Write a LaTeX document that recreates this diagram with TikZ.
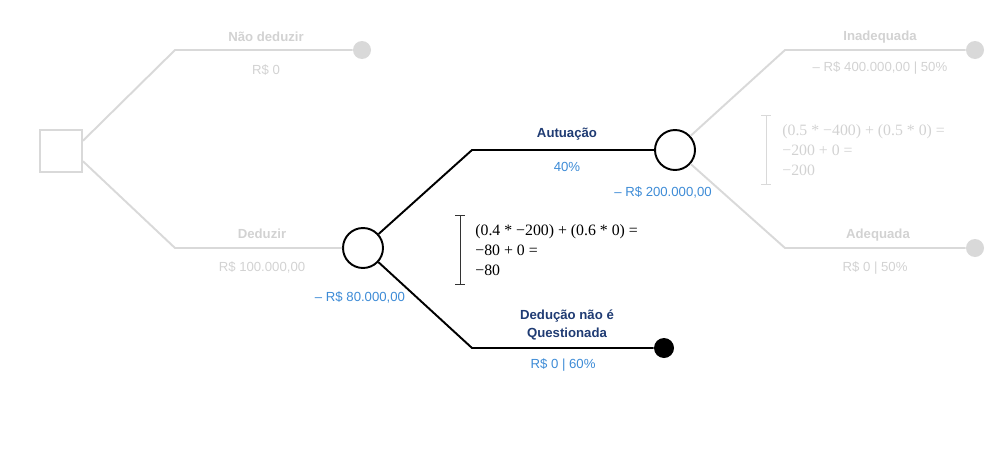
\documentclass[tikz,border=0pt]{standalone}
\usepackage{xcolor}
\usepackage{fontspec}
\setmainfont{Liberation Sans}
\newfontfamily\formfont{Liberation Serif}
\usepackage{tikz}
\usetikzlibrary{positioning}

\definecolor{faded}{HTML}{D9D9D9}
\definecolor{fadedtxt}{HTML}{D2D2D2}
\definecolor{valblue}{HTML}{3D8BD6}
\definecolor{navy}{HTML}{1F3B73}

\begin{document}
\begin{tikzpicture}[
    x=0.02cm, y=-0.02cm,
    faded_line/.style={line width=1.1pt, draw=faded},
    main_line/.style={line width=1.1pt, draw=black},
    decision/.style={rectangle, draw=faded, line width=1.1pt, minimum size=0.84cm, inner sep=0},
    chance/.style={circle, draw=black, line width=1.1pt, fill=white, minimum size=0.8cm, inner sep=0},
    end_faded/.style={circle, fill=faded, minimum size=0.36cm, inner sep=0},
    end_main/.style={circle, fill=black, minimum size=0.4cm, inner sep=0},
    lbl/.style={font=\fontsize{7.5}{10.2}\selectfont\bfseries, align=center, inner sep=0},
    val/.style={font=\fontsize{7.5}{9}\selectfont, inner sep=0},
    calc_box/.style={font=\formfont\fontsize{9}{11.3}\selectfont, align=left, inner xsep=0, inner ysep=5pt, anchor=west}
]
    \useasboundingbox (0,0) rectangle (1000,450);

    % Decision node
    \node (dec) [decision] at (61,151) {};

    % Branch corners
    \coordinate (k_nao) at (175,50);
    \coordinate (k_ded) at (175,248);
    \coordinate (k_aut) at (472,150);
    \coordinate (k_que) at (472,348);
    \coordinate (k_ina) at (785,50);
    \coordinate (k_ade) at (785,248);

    % Chance and end nodes
    \node (ch_ded) [chance] at (363,248) {};
    \node (ch_aut) [chance] at (675,150) {};
    \node (end_nao) [end_faded] at (362,50) {};
    \node (end_que) [end_main] at (664,348) {};
    \node (end_ina) [end_faded] at (975,50) {};
    \node (end_ade) [end_faded] at (975,248) {};

    % Faded branches
    \draw [faded_line] (dec.25) -- (k_nao) -- (end_nao);
    \draw [faded_line] (dec.-25) -- (k_ded) -- (ch_ded);
    \draw [faded_line] (ch_aut) -- (k_ina) -- (end_ina);
    \draw [faded_line] (ch_aut) -- (k_ade) -- (end_ade);

    % Active branches
    \draw [main_line] (ch_ded) -- (k_aut) -- (ch_aut);
    \draw [main_line] (ch_ded) -- (k_que) -- (end_que);

    % Labels
    \node (l_nao) [lbl, text=fadedtxt] at (266,37) {Não deduzir};
    \node (v_nao) [val, text=fadedtxt] at (266,70) {R\$ 0};
    \node (l_ded) [lbl, text=fadedtxt] at (262,234) {Deduzir};
    \node (v_ded) [val, text=fadedtxt] at (262,267) {R\$ 100.000,00};
    \node (e_ded) [val, text=valblue] at (360,297) {– R\$ 80.000,00};
    \node (l_aut) [lbl, text=navy] at (567,134) {Autuação};
    \node (v_aut) [val, text=valblue] at (567,167) {40\%};
    \node (e_aut) [val, text=valblue] at (663,192) {– R\$ 200.000,00};
    \node (l_que) [lbl, text=navy] at (567,325) {Dedução não é\\Questionada};
    \node (v_que) [val, text=valblue] at (563,365) {R\$ 0 | 60\%};
    \node (l_ina) [lbl, text=fadedtxt] at (880,37) {Inadequada};
    \node (v_ina) [val, text=fadedtxt] at (880,68) {– R\$ 400.000,00 | 50\%};
    \node (l_ade) [lbl, text=fadedtxt] at (878,235) {Adequada};
    \node (v_ade) [val, text=fadedtxt] at (875,268) {R\$ 0 | 50\%};

    % Expected values
    \node (calc_ded) [calc_box] at (475,250) {(0.4 * −200) + (0.6 * 0) =\\−80 + 0 =\\−80};
    \draw [|-|, black!80, thin] ([xshift=-8.5pt]calc_ded.north west) -- ([xshift=-8.5pt]calc_ded.south west);
    \node (calc_aut) [calc_box, text=fadedtxt] at (782,150) {(0.5 * −400) + (0.5 * 0) =\\−200 + 0 =\\−200};
    \draw [|-|, faded, thin] ([xshift=-9pt]calc_aut.north west) -- ([xshift=-9pt]calc_aut.south west);
\end{tikzpicture}
\end{document}
